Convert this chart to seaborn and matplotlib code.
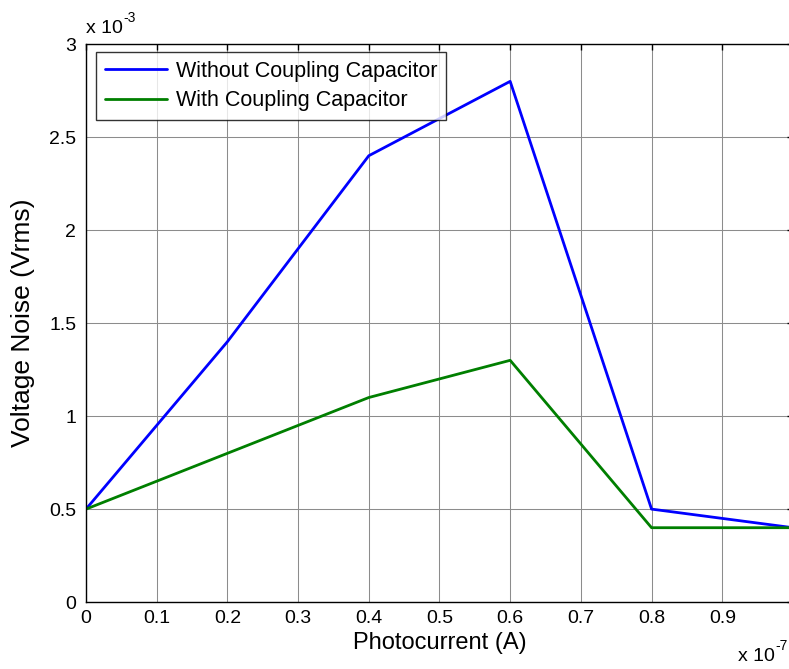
import matplotlib
matplotlib.use("Agg")
import matplotlib.pyplot as plt
import seaborn as sns
import pandas as pd
from matplotlib.ticker import FuncFormatter, MultipleLocator

# photocurrent in A, noise in Vrms
photocurrent = [0.0, 0.2e-7, 0.4e-7, 0.6e-7, 0.8e-7, 1.0e-7]
noise_without = [0.5e-3, 1.4e-3, 2.4e-3, 2.8e-3, 0.5e-3, 0.4e-3]
noise_with = [0.5e-3, 0.8e-3, 1.1e-3, 1.3e-3, 0.4e-3, 0.4e-3]
series_names = ["Without Coupling Capacitor", "With Coupling Capacitor"]

df = pd.concat([
    pd.DataFrame({"x": photocurrent, "y": noise_without, "s": series_names[0]}),
    pd.DataFrame({"x": photocurrent, "y": noise_with, "s": series_names[1]}),
])

sns.set_style("white")
plt.rcParams["font.family"] = ["Liberation Sans", "DejaVu Sans"]
plt.rcParams["text.color"] = "black"
plt.rcParams["axes.labelcolor"] = "black"

fig = plt.figure(figsize=(7.89, 6.69), dpi=100)
ax = fig.add_axes([0.109, 0.100, 0.896, 0.834])

sns.lineplot(data=df, x="x", y="y", hue="s", palette=["#0000ff", "#007f00"],
             linewidth=2.0, ax=ax, legend=True)

ax.set_xlim(0, 1e-7)
ax.set_ylim(0, 3e-3)
ax.xaxis.set_major_locator(MultipleLocator(0.1e-7))
ax.yaxis.set_major_locator(MultipleLocator(0.5e-3))
ax.xaxis.set_major_formatter(FuncFormatter(lambda v, p: "%g" % round(v * 1e7, 2)))
ax.yaxis.set_major_formatter(FuncFormatter(lambda v, p: "%g" % round(v * 1e3, 2)))
ax.grid(True, color="#8c8c8c", linewidth=0.75)
ax.tick_params(direction="in", length=4, width=1, top=True, right=True,
               labelsize=14, colors="black")
ax.tick_params(axis="x", pad=6)
ax.tick_params(axis="y", pad=7)
for sp in ax.spines.values():
    sp.set_color("black")
    sp.set_linewidth(1.0)

ax.set_xlabel("Photocurrent (A)", fontsize=17, labelpad=3)
ax.set_ylabel("Voltage Noise (Vrms)", fontsize=19, labelpad=10)

# MATLAB style exponent labels (plain hyphen)
ax.text(0.0, 1.012, "x 10", transform=ax.transAxes, fontsize=14,
        ha="left", va="bottom")
ax.annotate("-3", xy=(0.0, 1.012), xycoords="axes fraction", xytext=(27, 9),
            textcoords="offset points", fontsize=10, ha="left", va="bottom")
ax.text(0.922, -0.113, "x 10", transform=ax.transAxes, fontsize=14,
        ha="left", va="bottom")
ax.annotate("-7", xy=(0.922, -0.113), xycoords="axes fraction", xytext=(27, 9),
            textcoords="offset points", fontsize=10, ha="left", va="bottom")

leg = ax.legend(loc="upper left", bbox_to_anchor=(0.014, 0.986), fontsize=15.5,
                frameon=True, fancybox=False, edgecolor="black",
                handlelength=2.9, handletextpad=0.4, borderpad=0.4,
                labelspacing=0.4, borderaxespad=0, title=None)
leg.get_frame().set_linewidth(1.0)
for t in leg.get_texts():
    t.set_color("black")

fig.savefig("out.png", dpi=100)
